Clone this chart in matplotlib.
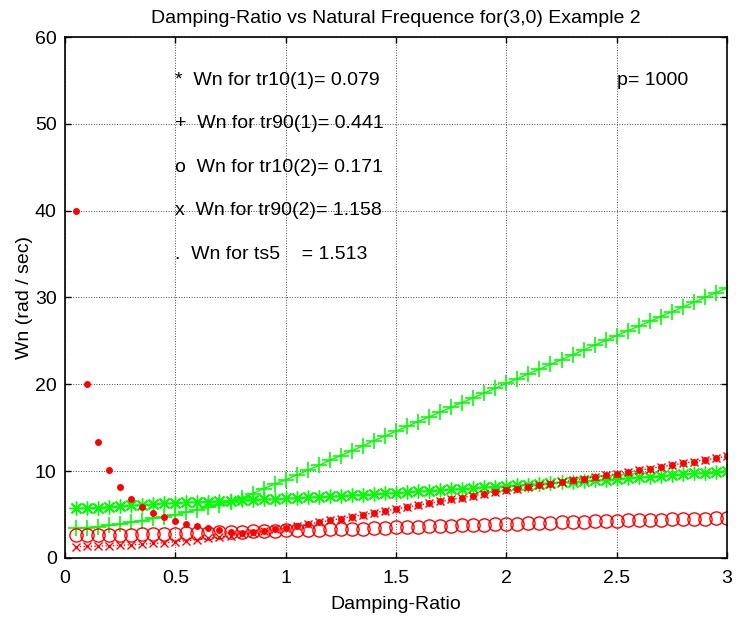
import matplotlib
matplotlib.use('Agg')
import numpy as np
import matplotlib.pyplot as plt

plt.rcParams['font.family'] = ['Liberation Sans', 'DejaVu Sans']

# damping ratio grid (0.05 ... 3.00)
zeta = [0.05, 0.10, 0.15, 0.20, 0.25, 0.30, 0.35, 0.40, 0.45, 0.50,
        0.55, 0.60, 0.65, 0.70, 0.75, 0.80, 0.85, 0.90, 0.95, 1.00,
        1.05, 1.10, 1.15, 1.20, 1.25, 1.30, 1.35, 1.40, 1.45, 1.50,
        1.55, 1.60, 1.65, 1.70, 1.75, 1.80, 1.85, 1.90, 1.95, 2.00,
        2.05, 2.10, 2.15, 2.20, 2.25, 2.30, 2.35, 2.40, 2.45, 2.50,
        2.55, 2.60, 2.65, 2.70, 2.75, 2.80, 2.85, 2.90, 2.95, 3.00]

# Wn for tr10(1)  (*)
wn_tr10_1 = [5.70, 5.75, 5.80, 5.90, 5.98, 6.05, 6.12, 6.20, 6.28, 6.35,
             6.40, 6.45, 6.50, 6.55, 6.60, 6.65, 6.70, 6.75, 6.80, 6.85,
             6.91, 6.97, 7.03, 7.09, 7.15, 7.22, 7.29, 7.36, 7.43, 7.50,
             7.58, 7.66, 7.74, 7.82, 7.90, 7.98, 8.06, 8.14, 8.22, 8.30,
             8.38, 8.46, 8.54, 8.62, 8.70, 8.78, 8.86, 8.94, 9.02, 9.10,
             9.19, 9.28, 9.37, 9.46, 9.55, 9.64, 9.73, 9.82, 9.91, 10.00]

# Wn for tr90(1)  (+)
wn_tr90_1 = [3.40, 3.50, 3.60, 3.75, 3.90, 4.10, 4.30, 4.55, 4.75, 5.00,
             5.25, 5.55, 5.85, 6.15, 6.50, 6.90, 7.40, 8.00, 8.50, 9.00,
             9.55, 10.10, 10.65, 11.25, 11.80, 12.35, 12.90, 13.50, 14.05, 14.60,
             15.15, 15.70, 16.25, 16.80, 17.35, 17.90, 18.45, 19.00, 19.55, 20.10,
             20.65, 21.20, 21.75, 22.30, 22.85, 23.40, 23.95, 24.50, 25.05, 25.60,
             26.15, 26.70, 27.25, 27.80, 28.35, 28.90, 29.45, 30.00, 30.55, 31.10]

# Wn for tr10(2)  (o)
wn_tr10_2 = [2.60, 2.62, 2.64, 2.66, 2.68, 2.70, 2.72, 2.74, 2.76, 2.78,
             2.82, 2.86, 2.90, 2.94, 2.98, 3.02, 3.06, 3.10, 3.14, 3.18,
             3.21, 3.24, 3.27, 3.30, 3.33, 3.36, 3.39, 3.43, 3.47, 3.51,
             3.55, 3.59, 3.63, 3.67, 3.71, 3.75, 3.79, 3.83, 3.87, 3.91,
             3.95, 3.99, 4.03, 4.07, 4.11, 4.15, 4.19, 4.23, 4.27, 4.30,
             4.33, 4.36, 4.39, 4.42, 4.45, 4.48, 4.51, 4.54, 4.57, 4.60]

# Wn for tr90(2)  (x)
wn_tr90_2 = [1.30, 1.33, 1.36, 1.40, 1.45, 1.52, 1.59, 1.67, 1.76, 1.86,
             1.98, 2.11, 2.25, 2.40, 2.57, 2.74, 2.92, 3.10, 3.28, 3.46,
             3.67, 3.88, 4.10, 4.32, 4.54, 4.76, 4.98, 5.20, 5.42, 5.64,
             5.86, 6.08, 6.30, 6.52, 6.74, 6.96, 7.17, 7.38, 7.59, 7.80,
             7.99, 8.18, 8.37, 8.56, 8.75, 8.94, 9.13, 9.32, 9.51, 9.70,
             9.90, 10.10, 10.30, 10.50, 10.70, 10.90, 11.10, 11.30, 11.50, 11.70]

# Wn for ts5  (.)
wn_ts5 = [40.00, 20.00, 13.30, 10.10, 8.20, 6.80, 5.90, 5.20, 4.70, 4.30,
          3.95, 3.65, 3.40, 3.20, 3.00, 2.92, 2.98, 3.10, 3.28, 3.46,
          3.67, 3.88, 4.10, 4.32, 4.54, 4.76, 4.98, 5.20, 5.42, 5.64,
          5.86, 6.08, 6.30, 6.52, 6.74, 6.96, 7.17, 7.38, 7.59, 7.80,
          7.99, 8.18, 8.37, 8.56, 8.75, 8.94, 9.13, 9.32, 9.51, 9.70,
          9.90, 10.10, 10.30, 10.50, 10.70, 10.90, 11.10, 11.30, 11.50, 11.70]

notes = ['*  Wn for tr10(1)= 0.079',
         '+  Wn for tr90(1)= 0.441',
         'o  Wn for tr10(2)= 0.171',
         'x  Wn for tr90(2)= 1.158',
         '.  Wn for ts5    = 1.513']
notes_y = [55, 50, 45, 40, 35]

fs = 14
fig = plt.figure(figsize=(7.39, 6.19), dpi=100)
ax = fig.add_axes([0.088, 0.0986, 0.8958, 0.8416])

ax.plot(zeta, wn_tr10_1, color=(0, 1, 0), marker=(8, 2, 0), ms=10, mew=1.0, lw=1.0)
ax.plot(zeta, wn_tr90_1, color=(0, 1, 0), marker='+', ms=12, mew=1.2, lw=1.0)
ax.plot(zeta, wn_tr10_2, color=(1, 0, 0), marker='o', ms=9.5, mfc='none', mew=1.0, ls='none')
ax.plot(zeta, wn_tr90_2, color=(1, 0, 0), marker='x', ms=6, mew=1.0, ls=':', lw=1.0)
ax.plot(zeta, wn_ts5, color=(1, 0, 0), marker='o', ms=5, mew=0, ls='none')

for s, yy in zip(notes, notes_y):
    ax.text(0.5, yy, s, fontsize=fs, va='center', ha='left')
ax.text(2.5, 55, 'p= 1000', fontsize=fs, va='center', ha='left')

ax.set_xlim(0, 3)
ax.set_ylim(0, 60)
ax.set_xticks([0, 0.5, 1, 1.5, 2, 2.5, 3])
ax.set_xticklabels(['0', '0.5', '1', '1.5', '2', '2.5', '3'])
ax.set_yticks([0, 10, 20, 30, 40, 50, 60])
ax.grid(True, color='0.3', ls=':', lw=0.7)
ax.tick_params(direction='in', top=True, right=True, length=4, width=1,
               labelsize=fs)
ax.tick_params(axis='x', pad=9)
ax.tick_params(axis='y', pad=6)
for sp in ax.spines.values():
    sp.set_linewidth(1.2)

ax.set_title('Damping-Ratio vs Natural Frequence for(3,0) Example 2', fontsize=fs, pad=10)
ax.set_xlabel('Damping-Ratio', fontsize=fs, labelpad=6)
ax.set_ylabel('Wn (rad / sec)', fontsize=fs, labelpad=1)

fig.savefig('out.png', dpi=100)
